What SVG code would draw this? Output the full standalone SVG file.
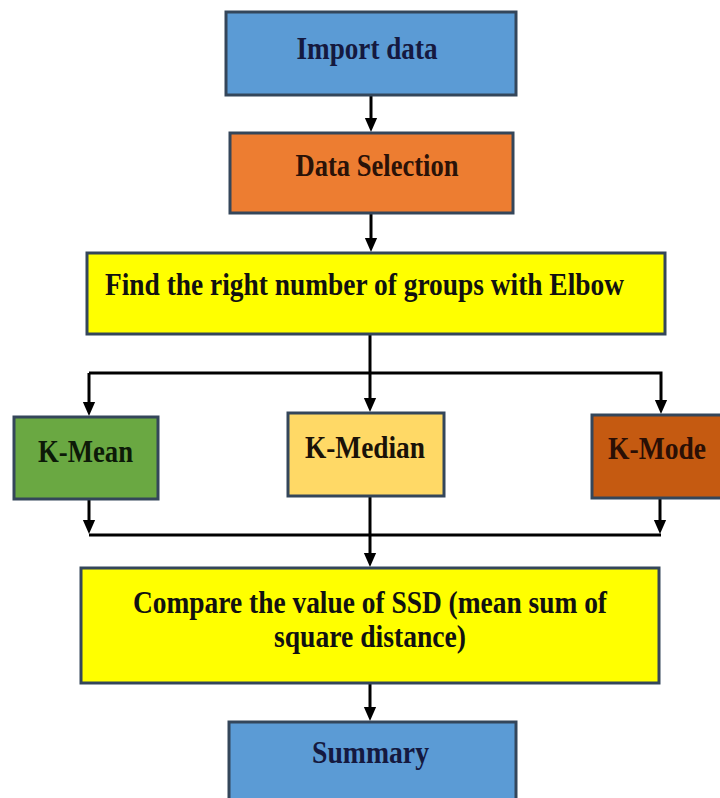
<svg xmlns="http://www.w3.org/2000/svg" width="720" height="798" viewBox="0 0 720 798">
<style>
.box{stroke:#34465a;stroke-width:3}
.t{font-family:"Liberation Serif","Times New Roman",serif;font-weight:bold;font-size:32px}
.c{text-anchor:middle}
.ln{stroke:#000;stroke-width:3;fill:none}
</style>
<defs>
<marker id="ad" markerUnits="userSpaceOnUse" markerWidth="14" markerHeight="16" refX="8" refY="7" orient="auto" viewBox="0 0 16 14">
<path d="M0,0 L16,7 L0,14 Z" fill="#000"/>
</marker>
</defs>
<rect width="720" height="798" fill="#fff"/>
<g id="connectors">
<line class="ln" x1="371" y1="95" x2="371" y2="125" marker-end="url(#ad)"/>
<line class="ln" x1="371" y1="213" x2="371" y2="245" marker-end="url(#ad)"/>
<line class="ln" x1="370" y1="334" x2="370" y2="405" marker-end="url(#ad)"/>
<polyline class="ln" points="89,373 661,373 661,407" marker-end="url(#ad)"/>
<line class="ln" x1="89" y1="373" x2="89" y2="409" marker-end="url(#ad)"/>
<line class="ln" x1="89" y1="499" x2="89" y2="527" marker-end="url(#ad)"/>
<line class="ln" x1="660" y1="498" x2="660" y2="527" marker-end="url(#ad)"/>
<line class="ln" x1="89" y1="535" x2="661" y2="535"/>
<line class="ln" x1="370" y1="496" x2="370" y2="560" marker-end="url(#ad)"/>
<line class="ln" x1="370" y1="683" x2="370" y2="714" marker-end="url(#ad)"/>
</g>
<g id="import">
<rect class="box" x="226" y="12" width="290" height="83" fill="#5b9bd5"/>
<text class="t c" x="367" y="59" fill="#15193f" textLength="141" lengthAdjust="spacingAndGlyphs" font-size="34">Import data</text>
</g>
<g id="selection">
<rect class="box" x="230" y="133" width="283" height="80" fill="#ed7d31"/>
<text class="t c" x="377" y="176" fill="#2a1208" textLength="163" lengthAdjust="spacingAndGlyphs">Data Selection</text>
</g>
<g id="elbow">
<rect class="box" x="87" y="253" width="578" height="81" fill="#ffff00"/>
<text class="t" x="105" y="295" fill="#111" textLength="519" lengthAdjust="spacingAndGlyphs">Find the right number of groups with Elbow</text>
</g>
<g id="kmean">
<rect class="box" x="14" y="417" width="144" height="82" fill="#6aa842"/>
<text class="t c" x="85.5" y="462" fill="#0d1a08" textLength="95" lengthAdjust="spacingAndGlyphs">K-Mean</text>
</g>
<g id="kmedian">
<rect class="box" x="288" y="413" width="156" height="83" fill="#ffd966"/>
<text class="t c" x="365" y="458" fill="#1a1208" textLength="120" lengthAdjust="spacingAndGlyphs">K-Median</text>
</g>
<g id="kmode">
<rect class="box" x="592" y="415" width="132" height="83" fill="#c55a11"/>
<text class="t c" x="657" y="459" fill="#2a0f05" textLength="98" lengthAdjust="spacingAndGlyphs">K-Mode</text>
</g>
<g id="compare">
<rect class="box" x="81" y="568" width="578" height="115" fill="#ffff00"/>
<text class="t c" x="370" y="613" fill="#111" textLength="474" lengthAdjust="spacingAndGlyphs">Compare the value of SSD (mean sum of</text>
<text class="t c" x="370" y="647" fill="#111" textLength="192" lengthAdjust="spacingAndGlyphs">square distance)</text>
</g>
<g id="summary">
<rect class="box" x="229" y="722" width="287" height="82" fill="#5b9bd5"/>
<text class="t c" x="370.5" y="763" fill="#15193f" textLength="117" lengthAdjust="spacingAndGlyphs">Summary</text>
</g>
</svg>
